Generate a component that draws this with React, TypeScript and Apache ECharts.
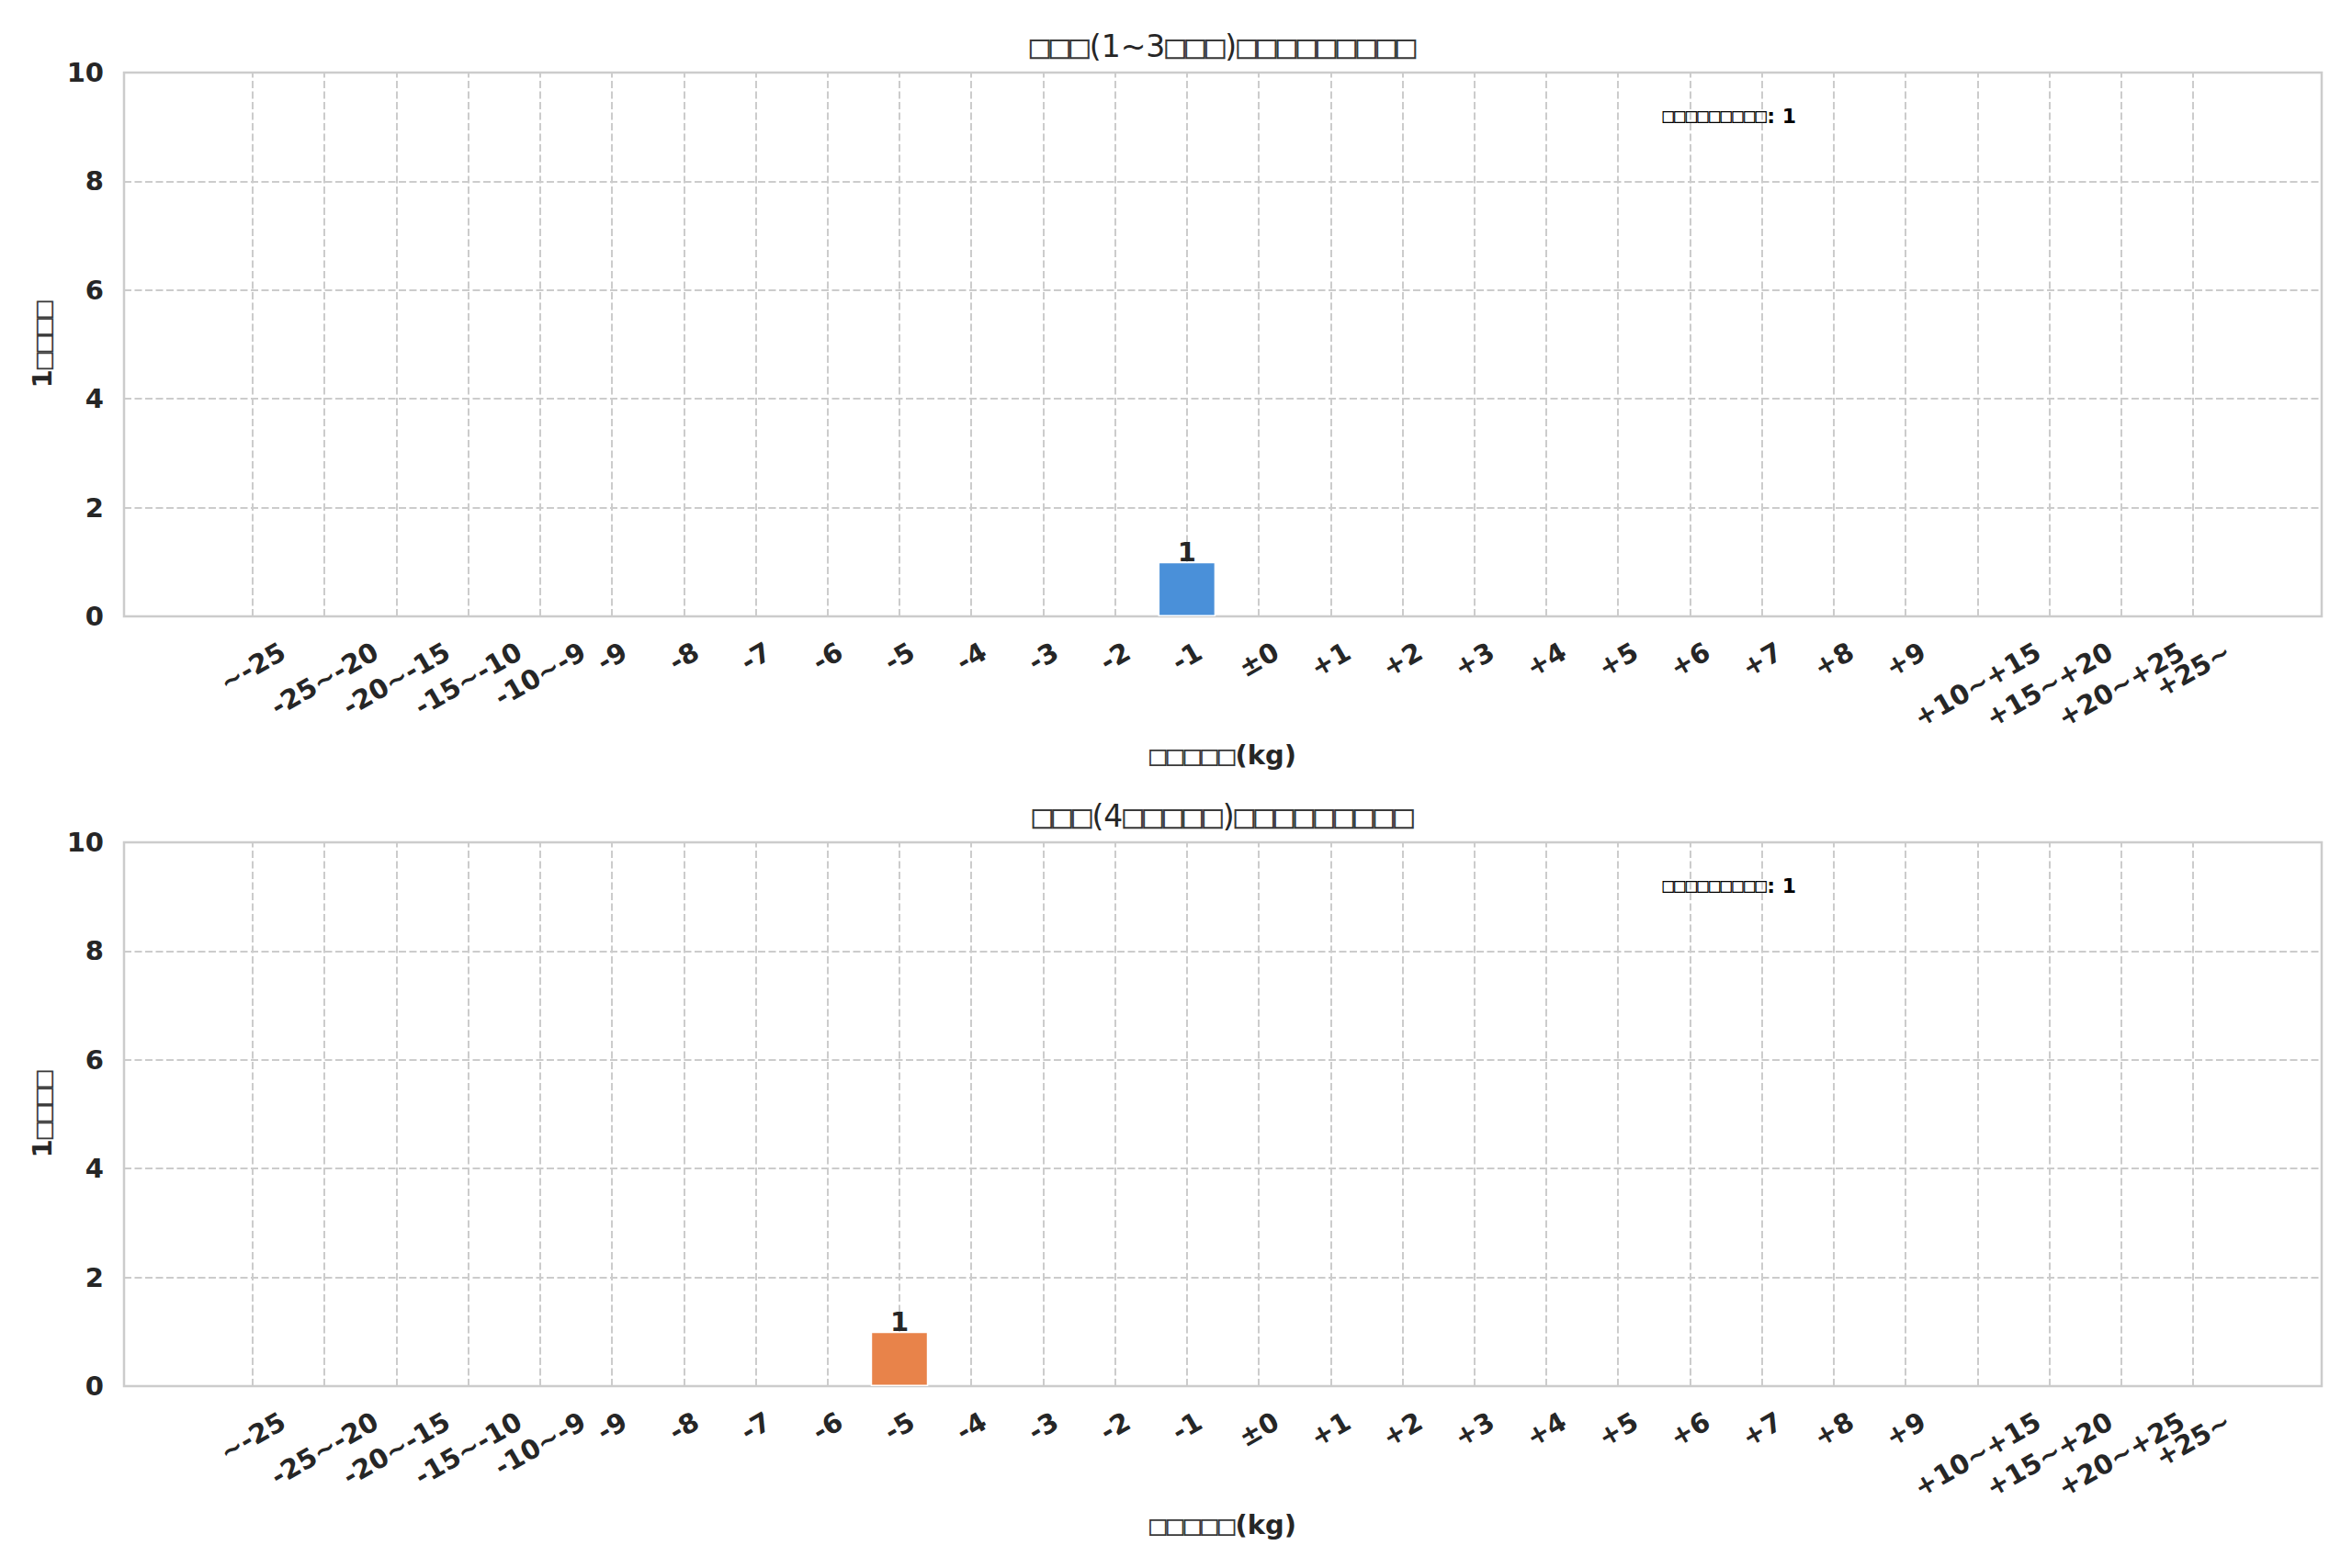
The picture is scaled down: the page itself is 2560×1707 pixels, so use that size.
import React, { useEffect, useRef } from 'react';
import * as echarts from 'echarts';

// ---------- data ----------
const categories = [
  '~-25', '-25~-20', '-20~-15', '-15~-10', '-10~-9',
  '-9', '-8', '-7', '-6', '-5', '-4', '-3', '-2', '-1',
  '±0', '+1', '+2', '+3', '+4', '+5', '+6', '+7', '+8', '+9',
  '+10~+15', '+15~+20', '+20~+25', '+25~',
];
const shortTermCounts = [
  0, 0, 0, 0, 0, 0, 0, 0, 0, 0, 0, 0, 0, 1,
  0, 0, 0, 0, 0, 0, 0, 0, 0, 0, 0, 0, 0, 0,
];
const longTermCounts = [
  0, 0, 0, 0, 0, 0, 0, 0, 0, 1, 0, 0, 0, 0,
  0, 0, 0, 0, 0, 0, 0, 0, 0, 0, 0, 0, 0, 0,
];
const panelTitles = ['□□□(1~3□□□)□□□□□□□□□', '□□□(4□□□□□)□□□□□□□□□'];
const yAxisTitle = '1□□□□';
const xAxisTitle = '□□□□□(kg)';
const annotationLabel = '□□□□□□□□□';
const barColors = ['#4A90D9', '#E8834A'];
const yMin = 0;
const yMax = 10;
const yStep = 2;

// ---------- styling ----------
const FONT = "'DejaVu Sans', sans-serif";
const BOX_FONT = "'DejaVu Sans Mono', monospace";
const TEXT = '#262626';
const GRID_COLOR = '#cccccc';
const DASH = [8, 3.5];

const PLOT_LEFT = 135;
const PLOT_RIGHT = 33;
const PLOT_H = 592;
const PLOT_TOPS = [79, 917];
const PLOT_CX = 1331;

function tofu(s: string, key: string): string {
  return s
    .split(/(□+)/)
    .filter((p) => p.length > 0)
    .map((p) => (p[0] === '□' ? `{${key}b|${p}}` : `{${key}n|${p}}`))
    .join('');
}

function richPair(key: string, size: number, weight: string, boxSize?: number) {
  return {
    [key + 'n']: { fontFamily: FONT, fontSize: size, fontWeight: weight, color: TEXT },
    [key + 'b']: {
      fontFamily: BOX_FONT,
      fontSize: boxSize ?? Math.round(size * 1.1),
      fontWeight: 'normal',
      color: '#3a3a3a',
    },
  };
}

export default function App() {
  const ref = useRef<HTMLDivElement>(null);

  useEffect(() => {
    if (!ref.current) return;
    const chart = echarts.init(ref.current, null, { renderer: 'svg' });

    // measure tick-label widths so rotated labels mimic centred, top-aligned placement
    const canvas = document.createElement('canvas');
    const ctx = canvas.getContext('2d')!;
    ctx.font = "bold 29px 'DejaVu Sans'";
    const tickRich: Record<string, any> = {};
    categories.forEach((c, i) => {
      const w = ctx.measureText(c).width;
      const d = w / 4;
      tickRich['c' + i] = {
        fontFamily: FONT,
        fontSize: 29,
        fontWeight: 'bold',
        color: TEXT,
        padding: [1.732 * d, d, 0, 0],
      };
    });
    const idx = categories.map((_, i) => i);
    const span = categories.length - 1 + 0.8;
    const xMin = -0.4 - span * 0.05;
    const xMax = categories.length - 1 + 0.4 + span * 0.05;
    // empty sentinel labels at both ends so that min/max label pruning never removes a real label
    const labelValues = [xMin + 0.05, ...idx, xMax - 0.05];

    const datasets = [shortTermCounts, longTermCounts];

    const grids = PLOT_TOPS.map((top) => ({
      left: PLOT_LEFT,
      right: PLOT_RIGHT,
      top,
      height: PLOT_H,
      show: true,
      borderColor: GRID_COLOR,
      borderWidth: 2.5,
      backgroundColor: 'transparent',
      containLabel: false,
    }));

    const xAxes = PLOT_TOPS.map((_, g) => ({
      gridIndex: g,
      type: 'value',
      min: xMin,
      max: xMax,
      axisLine: { show: false },
      axisTick: { show: false },
      splitLine: { show: false },
      axisLabel: {
        customValues: labelValues,
        showMinLabel: false,
        showMaxLabel: false,
        hideOverlap: false,
        rotate: 30,
        align: 'center',
        verticalAlign: 'middle',
        margin: 36,
        formatter: (v: number) =>
          Number.isInteger(v) && categories[v] !== undefined ? `{c${v}|${categories[v]}}` : '',
        rich: tickRich,
      },
      name: tofu(xAxisTitle, 'x'),
      nameLocation: 'middle',
      nameGap: 135,
      nameTextStyle: { rich: richPair('x', 29, 'bold', 31) },
    }));

    const yAxes = PLOT_TOPS.map((_, g) => ({
      gridIndex: g,
      type: 'value',
      min: yMin,
      max: yMax,
      interval: yStep,
      axisLine: { show: false },
      axisTick: { show: false },
      splitLine: { show: true, lineStyle: { color: GRID_COLOR, type: DASH, width: 2 } },
      axisLabel: {
        fontFamily: FONT,
        fontSize: 29,
        fontWeight: 'bold',
        color: TEXT,
        margin: 22,
      },
      name: tofu(yAxisTitle, 'y'),
      nameLocation: 'middle',
      nameGap: 70,
      nameTextStyle: { rich: richPair('y', 29, 'bold', 31) },
    }));

    const series = datasets.map((counts, g) => ({
      type: 'bar',
      xAxisIndex: g,
      yAxisIndex: g,
      barWidth: '80%',
      z: 3,
      data: counts.map((c, i) => ({
        value: [i, c],
        itemStyle: {
          color: barColors[g],
          borderColor: '#ffffff',
          borderWidth: c === 0 ? 0 : 1.5,
        },
      })),
      label: {
        show: true,
        position: 'top',
        distance: -4,
        fontFamily: FONT,
        fontSize: 29,
        fontWeight: 'bold',
        color: TEXT,
        formatter: (p: any) => (p.value[1] ? String(p.value[1]) : ''),
      },
      markLine: {
        silent: true,
        z: 1,
        symbol: ['none', 'none'],
        label: { show: false },
        emphasis: { disabled: true },
        lineStyle: { color: GRID_COLOR, type: DASH, width: 2 },
        data: idx.map((i) => ({ xAxis: i })),
      },
    }));

    const titles = PLOT_TOPS.map((top, g) => ({
      text: tofu(panelTitles[g], 't'),
      left: PLOT_CX,
      top: top - 47,
      textAlign: 'center',
      padding: 0,
      textStyle: { fontSize: 33, rich: richPair('t', 33, 'normal') },
    }));

    const annotations = PLOT_TOPS.map((top, g) => {
      const total = datasets[g].reduce((a, b) => a + b, 0);
      return {
        type: 'text',
        left: PLOT_LEFT + 0.7 * (2560 - PLOT_LEFT - PLOT_RIGHT),
        top: top + 36,
        z: 10,
        style: {
          text: tofu(`${annotationLabel}: ${total}`, 'a'),
          rich: richPair('a', 22, 'bold', 21),
        },
      };
    });

    chart.setOption({
      animation: false,
      backgroundColor: '#ffffff',
      title: titles,
      grid: grids,
      xAxis: xAxes,
      yAxis: yAxes,
      series,
      graphic: annotations,
    });

    return () => {
      chart.dispose();
    };
  }, []);

  return (
    <div
      ref={ref}
      style={{ position: 'fixed', left: 0, top: 0, width: 2560, height: 1707, background: '#fff' }}
    />
  );
}
